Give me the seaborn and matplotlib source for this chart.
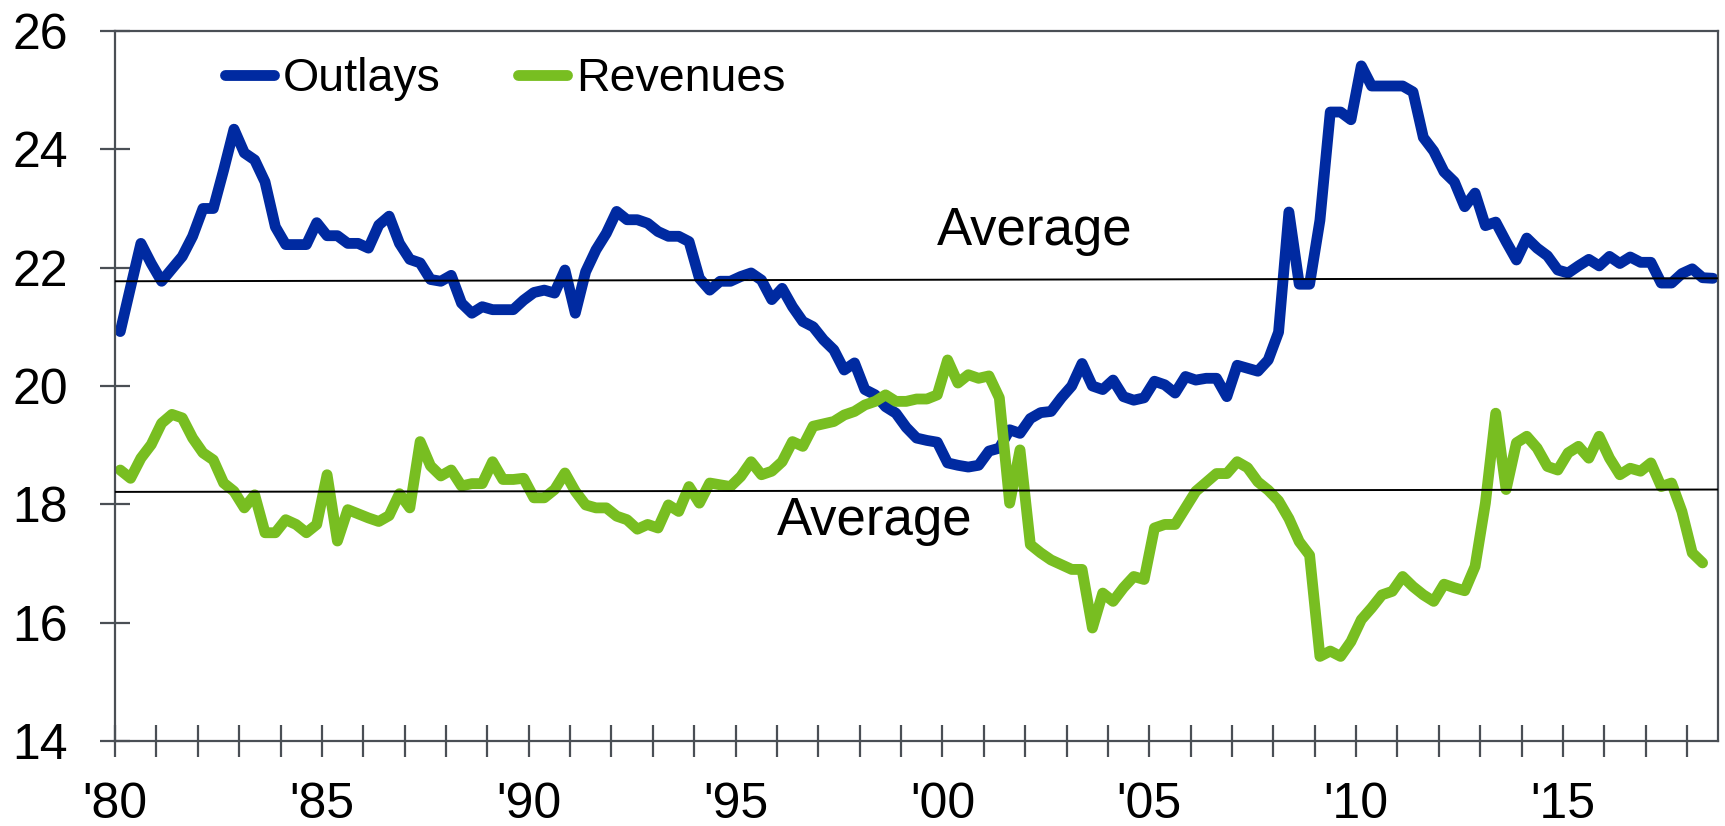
import numpy as np
import pandas as pd
import matplotlib
matplotlib.use("Agg")
import matplotlib.pyplot as plt
import seaborn as sns

# ---------------- data (percent of GDP, quarterly from 1980Q1) ----------------
outlays = [
    20.92, 21.67, 22.41, 22.07, 21.77, 21.98, 22.19, 22.53, 23.00, 23.00,
    23.65, 24.34, 23.94, 23.82, 23.45, 22.69, 22.39, 22.39, 22.39, 22.76,
    22.54, 22.54, 22.41, 22.41, 22.33, 22.72, 22.87, 22.41, 22.14, 22.08,
    21.80, 21.77, 21.87, 21.40, 21.23, 21.34, 21.29, 21.29, 21.29, 21.45,
    21.58, 21.62, 21.57, 21.96, 21.23, 21.93, 22.30, 22.58, 22.95, 22.81,
    22.81, 22.75, 22.61, 22.53, 22.53, 22.44, 21.82, 21.62, 21.77, 21.77,
    21.85, 21.91, 21.79, 21.46, 21.65, 21.34, 21.09, 21.00, 20.78, 20.61,
    20.27, 20.39, 19.94, 19.85, 19.65, 19.54, 19.30, 19.12, 19.08, 19.05,
    18.70, 18.66, 18.63, 18.66, 18.90, 18.95, 19.26, 19.20, 19.45, 19.55,
    19.57, 19.80, 20.00, 20.38, 20.00, 19.94, 20.10, 19.82, 19.76, 19.80,
    20.08, 20.02, 19.88, 20.16, 20.10, 20.13, 20.13, 19.82, 20.35, 20.30,
    20.25, 20.44, 20.91, 22.94, 21.72, 21.72, 22.80, 24.63, 24.63, 24.50,
    25.41, 25.07, 25.07, 25.07, 25.07, 24.97, 24.20, 23.97, 23.62, 23.45,
    23.03, 23.26, 22.71, 22.77, 22.44, 22.13, 22.50, 22.33, 22.20, 21.96,
    21.91, 22.03, 22.14, 22.03, 22.19, 22.07, 22.18, 22.09, 22.09, 21.74,
    21.74, 21.90, 21.98, 21.83, 21.82,
]
revenues = [
    18.58, 18.44, 18.78, 19.01, 19.37, 19.52, 19.46, 19.12, 18.87, 18.75,
    18.36, 18.22, 17.94, 18.16, 17.52, 17.52, 17.74, 17.66, 17.52, 17.66,
    18.50, 17.38, 17.91, 17.84, 17.77, 17.71, 17.81, 18.18, 17.94, 19.06,
    18.65, 18.48, 18.58, 18.31, 18.35, 18.35, 18.72, 18.42, 18.42, 18.44,
    18.11, 18.11, 18.25, 18.53, 18.22, 17.99, 17.94, 17.94, 17.80, 17.74,
    17.58, 17.66, 17.60, 17.99, 17.88, 18.30, 18.02, 18.36, 18.33, 18.30,
    18.47, 18.72, 18.50, 18.56, 18.72, 19.06, 18.98, 19.32, 19.36, 19.40,
    19.51, 19.57, 19.68, 19.74, 19.85, 19.74, 19.74, 19.78, 19.78, 19.85,
    20.44, 20.05, 20.19, 20.13, 20.17, 19.80, 18.02, 18.92, 17.32, 17.18,
    17.06, 16.98, 16.90, 16.90, 15.91, 16.50, 16.36, 16.59, 16.78, 16.73,
    17.60, 17.66, 17.66, 17.94, 18.22, 18.37, 18.52, 18.52, 18.72, 18.62,
    18.38, 18.24, 18.06, 17.76, 17.37, 17.14, 15.43, 15.52, 15.43, 15.68,
    16.05, 16.25, 16.47, 16.53, 16.78, 16.61, 16.47, 16.36, 16.65, 16.59,
    16.54, 16.95, 18.02, 19.54, 18.25, 19.04, 19.15, 18.95, 18.64, 18.58,
    18.87, 18.98, 18.78, 19.15, 18.78, 18.50, 18.61, 18.56, 18.70, 18.30,
    18.36, 17.88, 17.18, 17.01,
]
series_names = ["Outlays", "Revenues"]
avg_years = [1980.0, 2018.75]
avg_outlays = [21.77, 21.82]
avg_revenues = [18.21, 18.25]
avg_label = "Average"
ytick_values = [14, 16, 18, 20, 22, 24, 26]
xtick_years = list(range(1980, 2019))
xtick_labels = ["'" + str(y)[2:] if y % 5 == 0 else "" for y in xtick_years]

# ---------------- build long table ----------------
def quarter_times(n):
    q = pd.period_range("1980Q1", periods=n, freq="Q")
    return np.asarray(q.year + (q.quarter - 0.5) / 4.0, dtype=float)

df = pd.concat([
    pd.DataFrame({"t": quarter_times(len(outlays)), "v": outlays, "series": series_names[0]}),
    pd.DataFrame({"t": quarter_times(len(revenues)), "v": revenues, "series": series_names[1]}),
], ignore_index=True)

# ---------------- style ----------------
sns.set_style("white")
plt.rcParams["font.family"] = ["Liberation Sans", "DejaVu Sans"]
plt.rcParams["text.color"] = "black"
blue = "#002AA1"
green = "#78BE21"
axis_col = "#4A4F55"

fig = plt.figure(figsize=(17.25, 8.26), dpi=100)
ax = fig.add_axes([0.0667, 0.1029, 0.9293, 0.8596])

sns.lineplot(data=df, x="t", y="v", hue="series", hue_order=series_names,
             palette=[blue, green], linewidth=7.8, legend=False, ax=ax,
             solid_capstyle="round", solid_joinstyle="round", sort=False)

ax.plot(avg_years, avg_outlays, color="black", linewidth=1.4, zorder=5)
ax.plot(avg_years, avg_revenues, color="black", linewidth=1.4, zorder=5)

ax.text(2002.23, 22.385, avg_label, fontsize=38, ha="center", va="baseline", color="black")
ax.text(1998.36, 17.49, avg_label, fontsize=38, ha="center", va="baseline", color="black")

ax.set_xlim(1980, 2018.75)
ax.set_ylim(14, 26)
ax.set_xticks(xtick_years)
ax.set_xticklabels(xtick_labels)
ax.set_yticks(ytick_values)
ax.set_yticklabels([str(v) for v in ytick_values])
ax.set_xlabel("")
ax.set_ylabel("")

for s in ax.spines.values():
    s.set_visible(True)
    s.set_color(axis_col)
    s.set_linewidth(1.6)

ax.tick_params(axis="x", direction="inout", length=23, width=1.6, color=axis_col,
               labelsize=36, pad=18.0, bottom=True, top=False, labelcolor="black")
ax.tick_params(axis="y", direction="inout", length=22, width=1.6, color=axis_col,
               labelsize=36, pad=23.0, left=True, right=False, labelcolor="black")

lines = ax.get_lines()[:2]
leg = ax.legend(lines, series_names, loc="center left",
                bbox_to_anchor=(225 / 1725, 1 - 79 / 826), bbox_transform=fig.transFigure,
                frameon=False, ncol=2, fontsize=33.5, handlelength=1.05,
                handletextpad=0.2, columnspacing=1.65, borderpad=0, borderaxespad=0,
                labelcolor="black")

fig.savefig("out.png", dpi=100)
